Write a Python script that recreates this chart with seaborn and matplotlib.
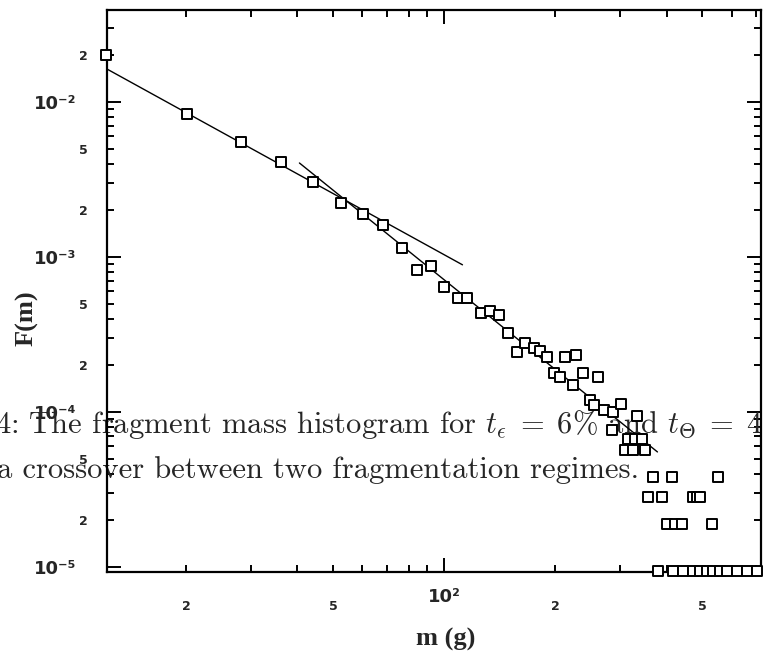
import math
import matplotlib
matplotlib.use("Agg")
import matplotlib.pyplot as plt
import matplotlib.ticker as mticker
import seaborn as sns

# fragment mass (g) and histogram value F(m)
mass = [12.1, 20.1, 28.2, 36.2, 44.2, 52.6, 60.3, 68.3, 76.9, 84.5,
        92.2, 100.0, 109.1, 115.4, 126.0, 133.2, 141.0, 149.0, 157.7, 165.8,
        175.4, 182.0, 190.2, 198.7, 206.3, 212.8, 227.9, 223.7, 238.2, 261.3,
        248.7, 255.0, 271.5, 287.1, 301.7, 333.4, 285.3, 315.2, 329.3, 344.0,
        309.4, 325.3, 350.6, 368.4, 414.9, 552.7, 357.2, 389.8, 472.9, 484.8,
        494.0, 402.0, 422.7, 441.7, 532.6,
        380.2, 417.5, 444.4, 472.9, 494.0, 516.1, 535.8, 559.7, 584.8, 622.3,
        662.3, 705.0]
freq = [2.0e-2, 8.37e-3, 5.52e-3, 4.10e-3, 3.05e-3, 2.23e-3, 1.89e-3, 1.61e-3, 1.14e-3, 8.24e-4,
        8.75e-4, 6.40e-4, 5.43e-4, 5.43e-4, 4.35e-4, 4.49e-4, 4.22e-4, 3.23e-4, 2.44e-4, 2.79e-4,
        2.59e-4, 2.48e-4, 2.26e-4, 1.79e-4, 1.68e-4, 2.26e-4, 2.33e-4, 1.49e-4, 1.79e-4, 1.68e-4,
        1.19e-4, 1.11e-4, 1.03e-4, 1.00e-4, 1.13e-4, 9.42e-5, 7.66e-5, 6.70e-5, 6.70e-5, 6.70e-5,
        5.69e-5, 5.69e-5, 5.69e-5, 3.81e-5, 3.81e-5, 3.81e-5, 2.83e-5, 2.83e-5, 2.83e-5, 2.83e-5,
        2.83e-5, 1.89e-5, 1.89e-5, 1.89e-5, 1.89e-5,
        9.4e-6, 9.4e-6, 9.4e-6, 9.4e-6, 9.4e-6, 9.4e-6, 9.4e-6, 9.4e-6, 9.4e-6, 9.4e-6,
        9.4e-6, 9.4e-6]

# the two power-law fits (end points)
fit_small_m = [12.2, 112.0]
fit_small_F = [1.63e-2, 8.9e-4]
fit_large_m = [40.5, 378.0]
fit_large_F = [4.04e-3, 5.52e-5]

caption_1 = r"4: The fragment mass histogram for $t_\epsilon\;=\;6\%$ and $t_\Theta\;=\;4$"
caption_2 = "a crossover between two fragmentation regimes."

sns.set_style("ticks")
plt.rcParams["mathtext.fontset"] = "cm"

fig = plt.figure(figsize=(7.65, 6.58), dpi=100)
ax = fig.add_axes([0.140, 0.131, 0.855, 0.854])
ax.set_xscale("log")
ax.set_yscale("log")

sns.lineplot(x=fit_small_m, y=fit_small_F, ax=ax, color="black", lw=1.0, zorder=2)
sns.lineplot(x=fit_large_m, y=fit_large_F, ax=ax, color="black", lw=1.0, zorder=2)
sns.scatterplot(x=mass, y=freq, ax=ax, marker="s", s=58, color="white",
                edgecolor="black", linewidth=1.4, zorder=3, clip_on=False)

ax.set_xlim(12.2, 722)
ax.set_ylim(9.3e-6, 3.93e-2)

for side in ax.spines.values():
    side.set_linewidth(1.6)
    side.set_color("black")

ax.xaxis.set_major_locator(mticker.LogLocator(base=10))
ax.yaxis.set_major_locator(mticker.LogLocator(base=10))
ax.xaxis.set_minor_locator(mticker.LogLocator(base=10, subs=range(2, 10)))
ax.yaxis.set_minor_locator(mticker.LogLocator(base=10, subs=range(2, 10)))

SUP = str.maketrans("-0123456789", "⁻⁰¹²³⁴⁵⁶⁷⁸⁹")


def minor_fmt(v, pos):
    lead = round(v / 10 ** math.floor(math.log10(v) + 1e-9))
    return str(lead) if lead in (2, 5) else ""


def major_fmt(v, pos):
    e = int(round(math.log10(v)))
    return "10" + str(e).translate(SUP)


ax.xaxis.set_minor_formatter(mticker.FuncFormatter(minor_fmt))
ax.yaxis.set_minor_formatter(mticker.FuncFormatter(minor_fmt))
ax.xaxis.set_major_formatter(mticker.FuncFormatter(major_fmt))
ax.yaxis.set_major_formatter(mticker.FuncFormatter(major_fmt))

ax.tick_params(which="both", direction="in", top=True, right=True, color="black", width=1.4)
ax.tick_params(which="major", length=10, labelsize=13)
ax.tick_params(which="minor", length=5, labelsize=9)
ax.tick_params(axis="x", which="major", pad=12)
ax.tick_params(axis="x", which="minor", pad=20)
ax.tick_params(axis="y", which="major", pad=22)
ax.tick_params(axis="y", which="minor", pad=14)
for lab in (ax.get_xticklabels(minor=True) + ax.get_yticklabels(minor=True)
            + ax.get_xticklabels() + ax.get_yticklabels()):
    lab.set_fontweight("bold")
    lab.set_family("DejaVu Sans")

ax.set_xlabel("m (g)", fontsize=19, fontweight="bold", family="Liberation Serif")
ax.set_ylabel("F(m)", fontsize=19, fontweight="bold", family="Liberation Serif")
ax.xaxis.set_label_coords(0.517, -0.100)
ax.yaxis.set_label_coords(-0.105, 0.452)

ax.text(-0.006, 1 - 433 / 658, caption_1, transform=fig.transFigure, family="cmr10",
        fontsize=22, va="baseline", ha="left", zorder=1, clip_on=False)
ax.text(-0.004, 1 - 478 / 658, caption_2, transform=fig.transFigure, family="cmr10",
        fontsize=22, va="baseline", ha="left", zorder=1, clip_on=False)

fig.savefig("out.png", dpi=100)
